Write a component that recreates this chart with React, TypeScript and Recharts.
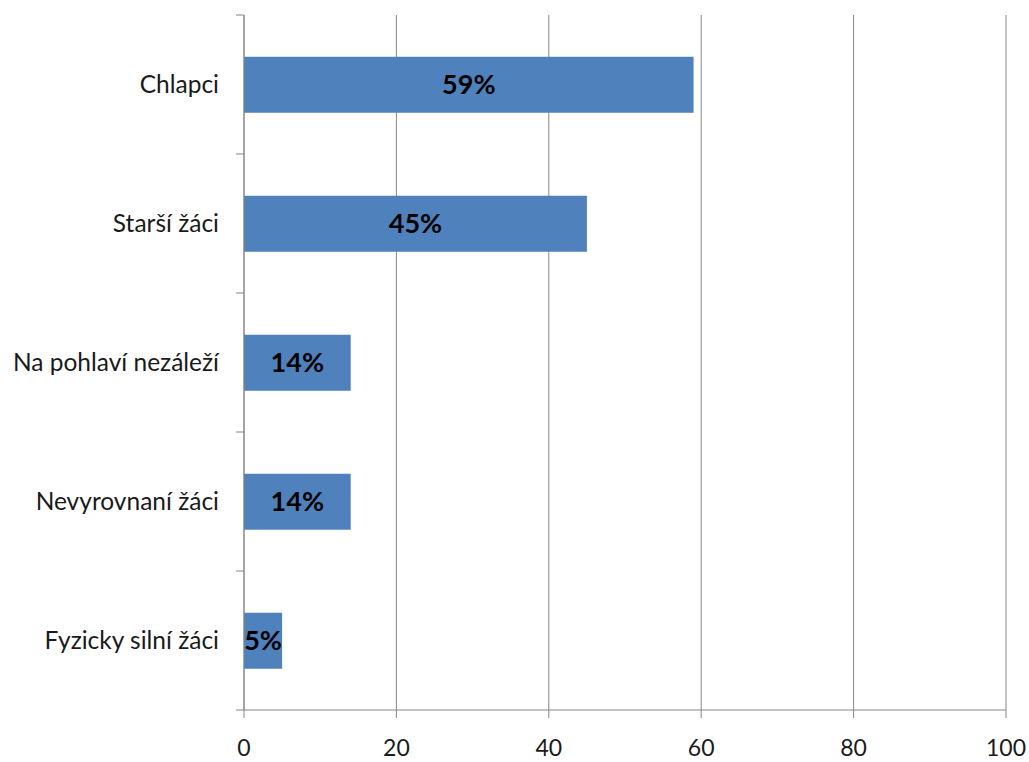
import { BarChart, Bar, XAxis, YAxis, CartesianGrid, LabelList } from "recharts";

const categories = ["Chlapci", "Starší žáci", "Na pohlaví nezáleží", "Nevyrovnaní žáci", "Fyzicky silní žáci"];
const values = [59, 45, 14, 14, 5];
const xTicks = [0, 20, 40, 60, 80, 100];

const data = categories.map((name, i) => ({ name, value: values[i] }));

const FONT = "Lato, 'Open Sans', sans-serif";
const AXIS_GRAY = "#868686";

// category label plus a short tick at the band edges (Excel style)
const CategoryTick = (props: any) => {
  const { x, y, payload, index } = props;
  const half = payload?.offset ?? 69.5;
  const axisX = x + 8 + 17;
  return (
    <g>
      <line x1={axisX - 8} x2={axisX} y1={y - half} y2={y - half} stroke={AXIS_GRAY} strokeWidth={1} />
      {index === categories.length - 1 && (
        <line x1={axisX - 8} x2={axisX} y1={y + half} y2={y + half} stroke={AXIS_GRAY} strokeWidth={1} />
      )}
      <text x={x} y={y} dy="0.355em" textAnchor="end" fill="#1a1a1a" fontSize={24.5} fontFamily={FONT}>
        {payload.value}
      </text>
    </g>
  );
};

export default function App() {
  return (
    <div style={{ position: "absolute", left: 0, top: 0, background: "#fff" }}>
      <BarChart
        width={1029}
        height={762}
        data={data}
        layout="vertical"
        margin={{ top: 15, right: 23, left: 0, bottom: 0 }}
        barCategoryGap="30%"
      >
        <CartesianGrid horizontal={false} stroke={AXIS_GRAY} />
        <XAxis
          type="number"
          domain={[0, 100]}
          ticks={xTicks}
          height={52}
          tickSize={8}
          tickMargin={22}
          stroke={AXIS_GRAY}
          tick={{ fill: "#1a1a1a", fontSize: 23, fontFamily: FONT }}
          interval={0}
        />
        <YAxis
          type="category"
          dataKey="name"
          width={244}
          tickLine={false}
          tickSize={8}
          tickMargin={17}
          stroke={AXIS_GRAY}
          tick={<CategoryTick />}
          interval={0}
        />
        <Bar dataKey="value" fill="#4F81BD" isAnimationActive={false}>
          <LabelList
            dataKey="value"
            position="center"
            formatter={(v: any) => `${v}%`}
            fill="#000"
            fontSize={27}
            fontWeight="bold"
            fontFamily={FONT}
          />
        </Bar>
      </BarChart>
    </div>
  );
}
